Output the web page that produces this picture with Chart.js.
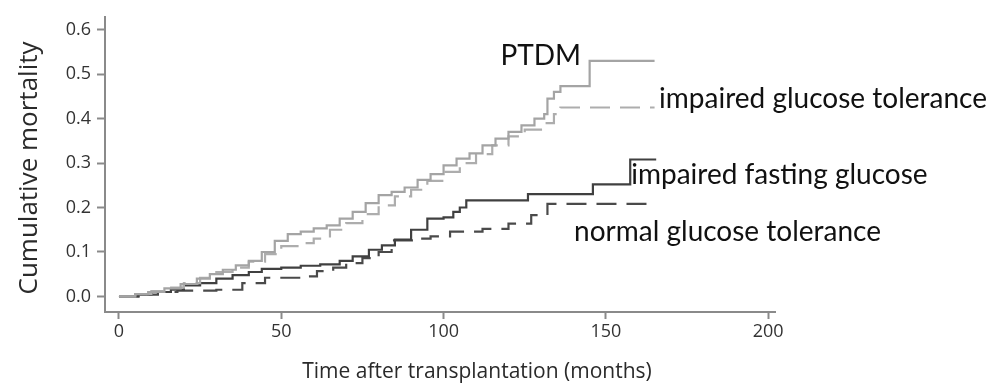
<!DOCTYPE html>
<html>
<head>
<meta charset="utf-8">
<script src="https://cdn.jsdelivr.net/npm/chart.js@4.4.1/dist/chart.umd.min.js"></script>
<style>
  html, body { margin: 0; padding: 0; background: #fff; }
  #wrap { width: 989px; height: 390px; }
</style>
</head>
<body>
<div id="wrap"><canvas id="chart-mortality" width="989" height="390"></canvas></div>
<script>
// Cumulative mortality after transplantation

const xTicks = [0, 50, 100, 150, 200];
const yTicks = [0, 0.1, 0.2, 0.3, 0.4, 0.5, 0.6];

// PTDM (light grey, solid)
const ptdmMonths = [0, 5, 9, 14, 19, 24, 28, 32, 36, 40, 44, 48, 52, 56, 60, 64, 68, 72, 76, 80, 84, 88, 92, 96, 100, 104, 108, 112, 116, 120, 124, 128, 131, 132, 134, 136, 145, 165];
const ptdmValues = [0, 0.005, 0.01, 0.018, 0.028, 0.04, 0.05, 0.06, 0.07, 0.08, 0.1, 0.125, 0.14, 0.146, 0.153, 0.16, 0.175, 0.19, 0.21, 0.228, 0.235, 0.245, 0.262, 0.275, 0.295, 0.31, 0.322, 0.34, 0.355, 0.37, 0.385, 0.4, 0.41, 0.445, 0.46, 0.473, 0.53, 0.53];

// impaired glucose tolerance (light grey, dashed)
const igtMonths = [0, 5, 10, 15, 20, 25, 30, 35, 40, 45, 50, 55, 60, 65, 70, 75, 80, 85, 90, 95, 100, 105, 110, 115, 120, 125, 130, 134, 136, 165];
const igtValues = [0, 0.005, 0.012, 0.02, 0.03, 0.042, 0.055, 0.065, 0.078, 0.095, 0.113, 0.12, 0.13, 0.15, 0.165, 0.185, 0.205, 0.225, 0.24, 0.26, 0.28, 0.3, 0.32, 0.34, 0.36, 0.375, 0.39, 0.41, 0.425, 0.425];

// impaired fasting glucose (dark grey, solid)
const ifgMonths = [0, 6, 10, 16, 20, 25, 30, 35, 40, 44, 50, 56, 62, 68, 72, 77, 81, 85, 90, 95, 100, 103, 105, 107, 126, 146, 157.5, 165.5];
const ifgValues = [0, 0.004, 0.01, 0.015, 0.025, 0.03, 0.04, 0.048, 0.055, 0.062, 0.065, 0.069, 0.072, 0.08, 0.09, 0.105, 0.115, 0.128, 0.15, 0.175, 0.178, 0.19, 0.2, 0.216, 0.23, 0.252, 0.308, 0.308];

// normal glucose tolerance (dark grey, dashed)
const ngtMonths = [0, 6, 12, 18, 24, 30, 38, 45, 57, 61, 66, 70, 75, 80, 84, 92, 96, 102, 112, 120, 127, 132, 164];
const ngtValues = [0, 0.004, 0.01, 0.013, 0.013, 0.015, 0.03, 0.042, 0.045, 0.057, 0.065, 0.075, 0.086, 0.1, 0.126, 0.13, 0.135, 0.146, 0.152, 0.164, 0.183, 0.208, 0.208];

function toPoints(xs, ys) {
    return xs.map((x, i) => ({ x: x, y: ys[i] }));
}

// curve labels, anchored in data units (left edge, vertical middle)
const curveLabels = [
    { text: 'PTDM', x: 117.5, y: 0.542 },
    { text: 'impaired glucose tolerance', x: 166.4, y: 0.445 },
    { text: 'impaired fasting glucose', x: 157.8, y: 0.274 },
    { text: 'normal glucose tolerance', x: 140.2, y: 0.144 }
];

const labelPlugin = {
    id: 'curveLabels',
    afterDatasetsDraw(chart) {
        const ctx = chart.ctx;
        const xs = chart.scales.x, ys = chart.scales.y;
        ctx.save();
        ctx.font = '28px Lato';
        ctx.fillStyle = '#111';
        ctx.textBaseline = 'middle';
        ctx.textAlign = 'left';
        curveLabels.forEach(l => {
            ctx.fillText(l.text, xs.getPixelForValue(l.x), ys.getPixelForValue(l.y));
        });

        // axis titles (the x title sits right of the plot centre in the original)
        ctx.fillStyle = '#2a2a2a';
        ctx.textAlign = 'center';
        ctx.font = '21px "Open Sans"';
        ctx.fillText('Time after transplantation (months)', 477, 372);
        ctx.translate(30, 168);
        ctx.rotate(-Math.PI / 2);
        ctx.font = '26px "Open Sans"';
        ctx.fillText('Cumulative mortality', 0, 0);
        ctx.restore();
    }
};

const axisGrey = '#8a8a8a';
const tickFont = { family: 'Open Sans', size: 18 };

new Chart(document.getElementById('chart-mortality').getContext('2d'), {
    type: 'line',
    data: {
        datasets: [
            { label: 'PTDM', data: toPoints(ptdmMonths, ptdmValues), borderColor: '#a4a4a4', borderWidth: 2.2 },
            { label: 'impaired glucose tolerance', data: toPoints(igtMonths, igtValues), borderColor: '#adadad', borderWidth: 2.2, borderDash: [20, 10] },
            { label: 'impaired fasting glucose', data: toPoints(ifgMonths, ifgValues), borderColor: '#404040', borderWidth: 2.2 },
            { label: 'normal glucose tolerance', data: toPoints(ngtMonths, ngtValues), borderColor: '#4a4a4a', borderWidth: 2.2, borderDash: [20, 10] }
        ]
    },
    options: {
        responsive: false,
        animation: false,
        elements: { point: { radius: 0 }, line: { stepped: true, fill: false } },
        layout: { padding: { top: 12, right: 214, left: 0, bottom: 0 } },
        plugins: { legend: { display: false }, tooltip: { enabled: false } },
        scales: {
            x: {
                type: 'linear',
                min: -4.3,
                max: 202.1,
                afterBuildTicks: s => { s.ticks = xTicks.map(v => ({ value: v })); },
                afterFit: s => { s.height = 78; },
                border: { display: true, color: axisGrey, width: 2 },
                grid: { display: true, drawOnChartArea: false, drawTicks: true, tickLength: 7, color: axisGrey, tickWidth: 2 },
                ticks: { font: tickFont, color: '#333', padding: 2, maxRotation: 0 }
            },
            y: {
                type: 'linear',
                min: -0.035,
                max: 0.629,
                afterBuildTicks: s => { s.ticks = yTicks.map(v => ({ value: v })); },
                afterFit: s => { s.width = 105; },
                border: { display: true, color: axisGrey, width: 2 },
                grid: { display: true, drawOnChartArea: false, drawTicks: true, tickLength: 8, color: axisGrey, tickWidth: 2 },
                ticks: { font: tickFont, color: '#333', padding: 6, callback: v => v.toFixed(1) }
            }
        }
    },
    plugins: [labelPlugin]
});
</script>
</body>
</html>
